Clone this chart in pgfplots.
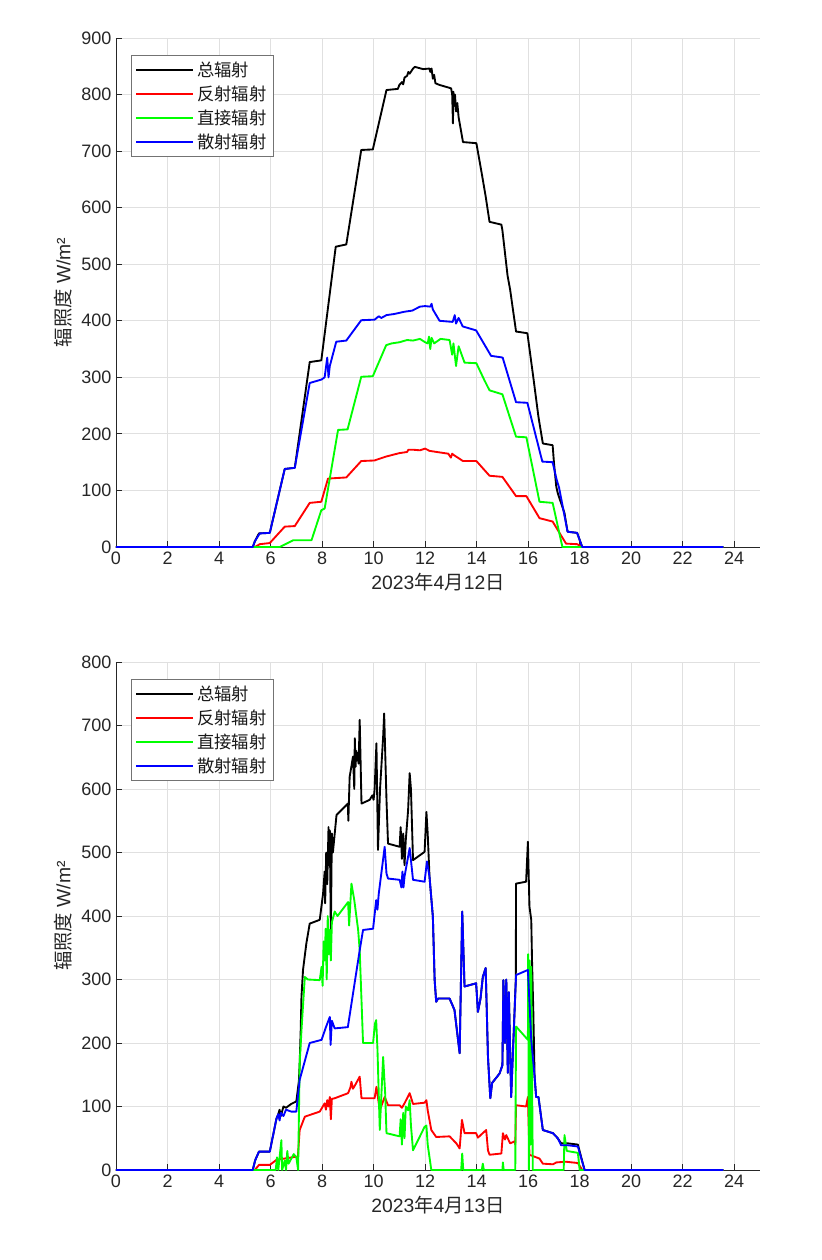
\documentclass[border=0pt]{standalone}
\usepackage{fontspec}
\setmainfont{Liberation Sans}
\newfontfamily\cjk{Noto Sans CJK SC}
\usepackage{pgfplots}
\pgfplotsset{compat=1.18}
\begin{document}
\begin{tikzpicture}
\useasboundingbox (0pt,0pt) rectangle (615.75pt,-945pt);
\pgfplotsset{mystyle/.style={
 scale only axis,
 width=483pt,
 xmin=0,xmax=25,
 xtick={0,2,...,24},
 ymin=0,
 axis x line*=bottom, axis y line*=left,
 axis line style={black!85, line width=0.6pt, -},
 tick align=inside,
 major tick length=4.5pt,
 tick style={black!85, line width=0.6pt},
 grid=major,
 major grid style={black!12, line width=0.6pt},
 ticklabel style={font=\fontsize{13.5}{16}\selectfont, text=black!85},
 /pgf/number format/assume math mode=true,
 label style={font=\fontsize{14.5}{17}\selectfont, text=black!85},
 ylabel={{\cjk 辐照度} W/m²},
 legend style={at={(0.023,0.967)}, anchor=north west, draw=black!55, line width=0.6pt,
   font=\fontsize{13}{15}\selectfont\cjk, text=black!90, row sep=1.5pt, inner sep=3pt, cells={anchor=west}},
 legend image code/.code={\draw[##1, line width=1.4pt] (0pt,0pt) -- (43pt,0pt);},
 every axis plot/.append style={line width=1.4pt, line join=round},
}}
\begin{axis}[mystyle, at={(87pt,-28.5pt)}, anchor=north west, height=381.75pt,
 ymax=900, ytick={0,100,...,900},
 xlabel={2023{\cjk 年}4{\cjk 月}12{\cjk 日}}]
\addplot[black] coordinates {(0,0) (5.31,0) (5.39,10) (5.55,24) (5.97,25) (6.55,138) (6.94,140) (7.52,327) (7.97,330) (8.53,531) (8.94,535) (9.52,702) (9.97,703) (10.5,808) (10.94,810) (11.0,817) (11.1,822) (11.15,818) (11.2,830) (11.3,833) (11.35,840) (11.4,837) (11.53,846) (11.6,849) (11.92,845) (12.17,846) (12.2,840) (12.25,846) (12.3,828) (12.35,835) (12.4,820) (12.56,817) (13.01,811) (13.05,800) (13.08,749) (13.1,805) (13.13,780) (13.16,800) (13.2,770) (13.25,785) (13.3,760) (13.47,716) (13.99,714) (14.2,660) (14.35,620) (14.5,575) (14.96,570) (15.0,560) (15.2,480) (15.3,455) (15.53,381) (15.97,378) (16.2,300) (16.4,230) (16.57,183) (16.95,180) (17.0,150) (17.09,107) (17.15,95) (17.41,60) (17.53,27) (17.9,25) (18.1,0) (23.58,0)};
\addlegendentry{总辐射}
\addplot[red] coordinates {(0,0) (5.39,0) (5.58,5) (5.97,7) (6.55,36) (6.94,37) (7.52,78) (7.97,80) (8.23,121) (8.94,123) (9.52,152) (10.03,153) (10.49,160) (11.0,166) (11.3,168) (11.35,172) (11.53,172) (11.8,171) (12.0,174) (12.17,170) (12.6,167) (12.9,165) (13.0,158) (13.05,165) (13.1,163) (13.47,152) (13.99,152) (14.5,126) (15.0,124) (15.53,90) (15.93,90) (16.44,51) (16.95,45) (17.47,6) (17.9,5) (18.1,0) (23.58,0)};
\addlegendentry{反射辐射}
\addplot[green] coordinates {(0,0) (6.36,0) (6.88,12) (7.59,12) (7.97,65) (8.1,68) (8.62,207) (8.99,208) (9.52,301) (9.97,302) (10.49,357) (10.7,360) (11.0,362) (11.3,366) (11.53,365) (11.8,368) (12.0,362) (12.1,360) (12.15,372) (12.2,350) (12.25,370) (12.35,360) (12.6,368) (12.95,366) (13.05,340) (13.1,360) (13.2,320) (13.3,355) (13.53,326) (13.99,325) (14.3,295) (14.5,277) (15.0,270) (15.53,195) (15.93,194) (16.44,80) (16.95,78) (17.33,0) (23.58,0)};
\addlegendentry{直接辐射}
\addplot[blue] coordinates {(0,0) (5.31,0) (5.39,10) (5.58,24) (5.97,25) (6.55,138) (6.94,140) (7.52,290) (7.97,296) (8.1,300) (8.2,335) (8.25,300) (8.3,320) (8.55,363) (8.94,365) (9.52,401) (10.04,402) (10.2,408) (10.3,405) (10.5,410) (10.8,412) (11.2,416) (11.5,418) (11.8,425) (12.0,426) (12.2,425) (12.25,430) (12.3,420) (12.56,400) (13.07,398) (13.15,410) (13.2,395) (13.3,405) (13.46,390) (13.98,383) (14.56,338) (15.01,335) (15.53,256) (15.97,255) (16.55,151) (16.95,150) (17.1,120) (17.2,105) (17.53,27) (17.9,25) (18.1,0) (23.58,0)};
\addlegendentry{散射辐射}
\end{axis}
\begin{axis}[mystyle, at={(87pt,-496.5pt)}, anchor=north west, height=381pt,
 ymax=800, ytick={0,100,...,800},
 xlabel={2023{\cjk 年}4{\cjk 月}13{\cjk 日}}]
\addplot[black] coordinates {(0,0) (5.31,0) (5.4,15) (5.55,29) (5.97,29) (6.23,81) (6.3,88) (6.35,95) (6.4,85) (6.5,100) (6.6,98) (6.8,104) (7.0,108) (7.1,140) (7.13,168) (7.17,220) (7.2,273) (7.26,315) (7.39,357) (7.52,388) (7.91,394) (8.04,436) (8.1,470) (8.12,420) (8.16,500) (8.2,450) (8.25,540) (8.28,480) (8.3,535) (8.34,373) (8.38,530) (8.42,500) (8.56,559) (9.0,577) (9.02,550) (9.07,619) (9.2,651) (9.25,600) (9.27,680) (9.3,635) (9.33,660) (9.42,640) (9.46,709) (9.53,577) (9.85,583) (9.95,590) (10.0,583) (10.04,600) (10.11,672) (10.17,504) (10.25,600) (10.37,682) (10.41,719) (10.5,583) (10.56,514) (11.01,509) (11.05,540) (11.1,490) (11.15,530) (11.2,480) (11.25,520) (11.34,567) (11.4,625) (11.45,600) (11.53,488) (11.98,501) (12.05,564) (12.1,530) (12.17,462) (12.3,399) (12.37,299) (12.43,265) (12.5,270) (12.95,270) (13.14,252) (13.34,184) (13.44,407) (13.53,289) (13.98,294) (14.05,249) (14.15,270) (14.24,304) (14.35,318) (14.44,178) (14.53,113) (14.6,137) (14.89,152) (15.0,165) (15.04,299) (15.1,200) (15.15,300) (15.21,153) (15.25,280) (15.34,115) (15.52,300) (15.53,451) (15.92,454) (15.99,517) (16.05,415) (16.12,394) (16.15,330) (16.2,250) (16.25,147) (16.31,115) (16.4,115) (16.57,63) (16.96,58) (17.15,50) (17.28,42) (17.54,42) (17.93,40) (18.19,0) (23.58,0)};
\addlegendentry{总辐射}
\addplot[red] coordinates {(0,0) (5.39,0) (5.55,8) (5.97,8) (6.23,16) (7.0,21) (7.05,15) (7.13,63) (7.33,84) (7.91,92) (8.1,105) (8.15,95) (8.2,110) (8.25,100) (8.3,115) (8.34,80) (8.38,112) (8.49,113) (9.01,121) (9.1,130) (9.14,139) (9.2,128) (9.3,135) (9.46,147) (9.53,113) (10.04,113) (10.11,131) (10.24,94) (10.43,115) (10.56,102) (11.01,102) (11.1,98) (11.2,105) (11.4,121) (11.53,104) (11.98,106) (12.05,110) (12.1,94) (12.24,63) (12.43,52) (12.95,53) (13.21,42) (13.34,34) (13.43,79) (13.53,58) (13.98,58) (14.05,51) (14.37,63) (14.44,31) (14.5,24) (14.96,26) (15.02,58) (15.1,48) (15.15,55) (15.3,42) (15.47,45) (15.5,40) (15.53,102) (15.92,100) (15.99,115) (16.05,24) (16.44,18) (16.57,10) (16.96,9) (17.1,12) (17.47,13) (17.93,11) (18.1,0) (23.58,0)};
\addlegendentry{反射辐射}
\addplot[green] coordinates {(0,0) (6.2,0) (6.25,20) (6.3,0) (6.42,47) (6.45,0) (6.55,15) (6.6,0) (6.65,30) (6.7,10) (6.9,25) (7.0,20) (7.07,0) (7.13,168) (7.2,220) (7.33,304) (7.45,300) (7.91,299) (7.98,320) (8.02,290) (8.06,360) (8.1,330) (8.14,380) (8.18,300) (8.22,400) (8.26,340) (8.3,378) (8.34,330) (8.38,390) (8.49,407) (8.6,400) (9.01,422) (9.05,385) (9.14,451) (9.25,425) (9.4,378) (9.46,346) (9.59,200) (9.98,200) (10.05,230) (10.1,236) (10.15,190) (10.24,63) (10.37,178) (10.45,120) (10.5,58) (11.01,53) (11.05,80) (11.1,40) (11.15,90) (11.2,50) (11.25,100) (11.34,94) (11.4,110) (11.45,70) (11.53,31) (11.98,68) (12.05,70) (12.1,40) (12.24,0) (13.4,0) (13.44,26) (13.48,0) (14.2,0) (14.24,10) (14.28,0) (15.0,0) (15.02,12) (15.05,0) (15.5,0) (15.53,226) (15.99,205) (16.0,340) (16.03,0) (16.06,330) (16.09,40) (16.12,320) (16.18,0) (17.38,0) (17.41,55) (17.5,30) (17.93,27) (18.0,0) (23.58,0)};
\addlegendentry{直接辐射}
\addplot[blue] coordinates {(0,0) (5.31,0) (5.4,15) (5.55,29) (5.97,29) (6.23,81) (6.3,88) (6.35,78) (6.4,90) (6.5,85) (6.6,95) (6.8,92) (7.0,92) (7.13,142) (7.52,200) (7.98,205) (8.15,225) (8.3,241) (8.33,197) (8.38,235) (8.49,223) (9.0,225) (9.46,346) (9.59,378) (9.98,380) (10.1,425) (10.15,410) (10.2,435) (10.43,509) (10.5,467) (10.56,459) (11.01,457) (11.08,445) (11.12,470) (11.16,445) (11.2,462) (11.4,507) (11.53,457) (11.98,454) (12.07,486) (12.17,462) (12.3,399) (12.37,299) (12.43,265) (12.5,270) (12.95,270) (13.14,252) (13.34,184) (13.44,407) (13.53,289) (13.98,294) (14.05,249) (14.15,270) (14.24,304) (14.35,318) (14.44,178) (14.53,113) (14.6,137) (14.89,152) (15.0,165) (15.04,299) (15.1,200) (15.15,300) (15.21,153) (15.25,280) (15.34,115) (15.53,307) (15.99,315) (16.12,205) (16.25,147) (16.31,115) (16.4,115) (16.57,63) (16.96,58) (17.15,50) (17.28,39) (17.54,39) (17.93,37) (18.19,0) (23.58,0)};
\addlegendentry{散射辐射}
\end{axis}
\end{tikzpicture}
\end{document}
